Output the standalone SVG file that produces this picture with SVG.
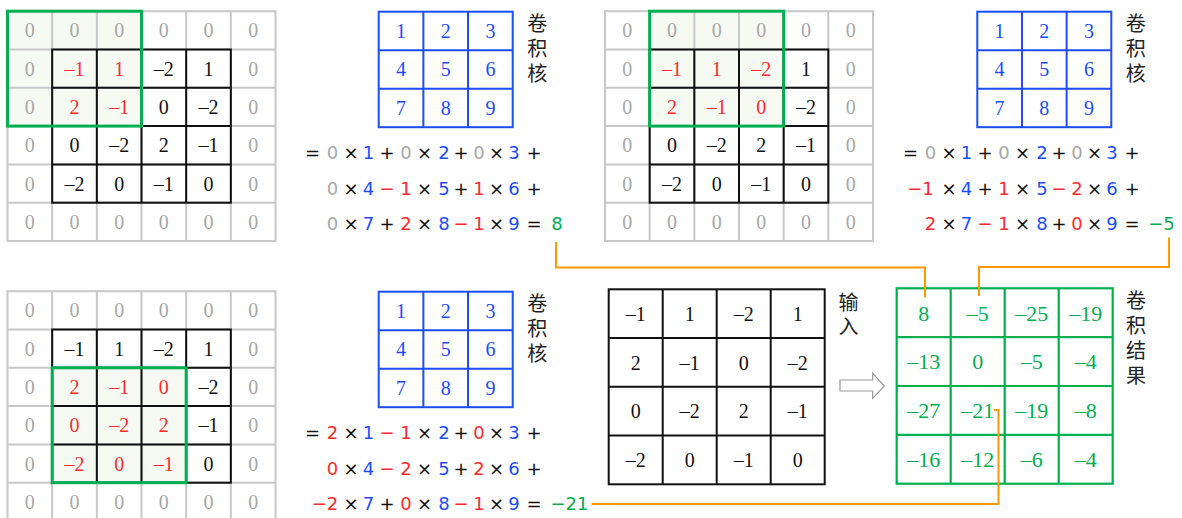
<svg xmlns="http://www.w3.org/2000/svg" xmlns:xlink="http://www.w3.org/1999/xlink" width="1182" height="518" viewBox="0 0 1182 518">
<style>
.d{font-family:"Liberation Serif",serif;font-size:20px;text-anchor:middle;fill:#111}
.z{fill:#a8a8a8}
.r{fill:#ff2a2a}
.b{fill:#1a4dff}
.gr{fill:#00b050}
.e{font-family:"DejaVu Sans",sans-serif;font-size:18px;text-anchor:middle;fill:#111}
.e .g{fill:#a8a8a8}
.cj{font-family:"Noto Sans CJK SC",sans-serif;font-size:20px;text-anchor:start;fill:#222;writing-mode:vertical-rl;letter-spacing:5px}
.gl{fill:none;stroke:#c8c8c8;stroke-width:2}
.bl{fill:none;stroke:#111;stroke-width:2}
.win{fill:#f7f9f3;stroke:none}
.wo{fill:none;stroke:#00b050;stroke-width:3}
.kl{fill:none;stroke:#1a4dff;stroke-width:2}
.rl{fill:none;stroke:#00b050;stroke-width:2.2}
.con{fill:none;stroke:#ff9900;stroke-width:2}
</style>
<defs>
<g id="padgrid">
<rect class="gl" x="0" y="0" width="268" height="229.8"/>
<path class="gl" d="M44.67 0V229.8M89.33 0V229.8M134 0V229.8M178.67 0V229.8M223.33 0V229.8M0 38.3H268M0 76.6H268M0 114.9H268M0 153.2H268M0 191.5H268"/>
<rect class="bl" x="44.67" y="38.3" width="178.67" height="153.2"/>
<path class="bl" d="M89.33 38.3V191.5M134 38.3V191.5M178.67 38.3V191.5M44.67 76.6H223.33M44.67 114.9H223.33M44.67 153.2H223.33"/>
</g>
<g id="kgrid">
<rect class="kl" x="0" y="0" width="134" height="115.5"/>
<path class="kl" d="M44.67 0V115.5M89.33 0V115.5M0 38.5H134M0 77H134"/>
</g>
</defs>

<g id="step1-input" transform="translate(7.5,11.2)">
<rect class="win" x="0" y="0" width="134" height="114.9"/>
<use href="#padgrid"/>
<rect class="wo" x="0" y="0" width="134" height="114.9"/>
<g class="d">
<text class="z" x="22.3" y="26.2">0</text><text class="z" x="67" y="26.2">0</text><text class="z" x="111.7" y="26.2">0</text><text class="z" x="156.3" y="26.2">0</text><text class="z" x="201" y="26.2">0</text><text class="z" x="245.7" y="26.2">0</text>
<text class="z" x="22.3" y="64.5">0</text><text class="r" x="67" y="64.5">–1</text><text class="r" x="111.7" y="64.5">1</text><text x="156.3" y="64.5">–2</text><text x="201" y="64.5">1</text><text class="z" x="245.7" y="64.5">0</text>
<text class="z" x="22.3" y="102.8">0</text><text class="r" x="67" y="102.8">2</text><text class="r" x="111.7" y="102.8">–1</text><text x="156.3" y="102.8">0</text><text x="201" y="102.8">–2</text><text class="z" x="245.7" y="102.8">0</text>
<text class="z" x="22.3" y="141.1">0</text><text x="67" y="141.1">0</text><text x="111.7" y="141.1">–2</text><text x="156.3" y="141.1">2</text><text x="201" y="141.1">–1</text><text class="z" x="245.7" y="141.1">0</text>
<text class="z" x="22.3" y="179.4">0</text><text x="67" y="179.4">–2</text><text x="111.7" y="179.4">0</text><text x="156.3" y="179.4">–1</text><text x="201" y="179.4">0</text><text class="z" x="245.7" y="179.4">0</text>
<text class="z" x="22.3" y="217.7">0</text><text class="z" x="67" y="217.7">0</text><text class="z" x="111.7" y="217.7">0</text><text class="z" x="156.3" y="217.7">0</text><text class="z" x="201" y="217.7">0</text><text class="z" x="245.7" y="217.7">0</text>
</g>
</g>

<g id="step2-input" transform="translate(605,11.2)">
<rect class="win" x="44.67" y="0" width="134" height="114.9"/>
<use href="#padgrid"/>
<rect class="wo" x="44.67" y="0" width="134" height="114.9"/>
<g class="d">
<text class="z" x="22.3" y="26.2">0</text><text class="z" x="67" y="26.2">0</text><text class="z" x="111.7" y="26.2">0</text><text class="z" x="156.3" y="26.2">0</text><text class="z" x="201" y="26.2">0</text><text class="z" x="245.7" y="26.2">0</text>
<text class="z" x="22.3" y="64.5">0</text><text class="r" x="67" y="64.5">–1</text><text class="r" x="111.7" y="64.5">1</text><text class="r" x="156.3" y="64.5">–2</text><text x="201" y="64.5">1</text><text class="z" x="245.7" y="64.5">0</text>
<text class="z" x="22.3" y="102.8">0</text><text class="r" x="67" y="102.8">2</text><text class="r" x="111.7" y="102.8">–1</text><text class="r" x="156.3" y="102.8">0</text><text x="201" y="102.8">–2</text><text class="z" x="245.7" y="102.8">0</text>
<text class="z" x="22.3" y="141.1">0</text><text x="67" y="141.1">0</text><text x="111.7" y="141.1">–2</text><text x="156.3" y="141.1">2</text><text x="201" y="141.1">–1</text><text class="z" x="245.7" y="141.1">0</text>
<text class="z" x="22.3" y="179.4">0</text><text x="67" y="179.4">–2</text><text x="111.7" y="179.4">0</text><text x="156.3" y="179.4">–1</text><text x="201" y="179.4">0</text><text class="z" x="245.7" y="179.4">0</text>
<text class="z" x="22.3" y="217.7">0</text><text class="z" x="67" y="217.7">0</text><text class="z" x="111.7" y="217.7">0</text><text class="z" x="156.3" y="217.7">0</text><text class="z" x="201" y="217.7">0</text><text class="z" x="245.7" y="217.7">0</text>
</g>
</g>

<g id="step3-input" transform="translate(7.5,291.2)">
<rect class="win" x="44.67" y="76.6" width="134" height="114.9"/>
<use href="#padgrid"/>
<rect class="wo" x="44.67" y="76.6" width="134" height="114.9"/>
<g class="d">
<text class="z" x="22.3" y="26.2">0</text><text class="z" x="67" y="26.2">0</text><text class="z" x="111.7" y="26.2">0</text><text class="z" x="156.3" y="26.2">0</text><text class="z" x="201" y="26.2">0</text><text class="z" x="245.7" y="26.2">0</text>
<text class="z" x="22.3" y="64.5">0</text><text x="67" y="64.5">–1</text><text x="111.7" y="64.5">1</text><text x="156.3" y="64.5">–2</text><text x="201" y="64.5">1</text><text class="z" x="245.7" y="64.5">0</text>
<text class="z" x="22.3" y="102.8">0</text><text class="r" x="67" y="102.8">2</text><text class="r" x="111.7" y="102.8">–1</text><text class="r" x="156.3" y="102.8">0</text><text x="201" y="102.8">–2</text><text class="z" x="245.7" y="102.8">0</text>
<text class="z" x="22.3" y="141.1">0</text><text class="r" x="67" y="141.1">0</text><text class="r" x="111.7" y="141.1">–2</text><text class="r" x="156.3" y="141.1">2</text><text x="201" y="141.1">–1</text><text class="z" x="245.7" y="141.1">0</text>
<text class="z" x="22.3" y="179.4">0</text><text class="r" x="67" y="179.4">–2</text><text class="r" x="111.7" y="179.4">0</text><text class="r" x="156.3" y="179.4">–1</text><text x="201" y="179.4">0</text><text class="z" x="245.7" y="179.4">0</text>
<text class="z" x="22.3" y="217.7">0</text><text class="z" x="67" y="217.7">0</text><text class="z" x="111.7" y="217.7">0</text><text class="z" x="156.3" y="217.7">0</text><text class="z" x="201" y="217.7">0</text><text class="z" x="245.7" y="217.7">0</text>
</g>
</g>

<g id="kernel1" transform="translate(378.7,11.7)">
<use href="#kgrid"/>
<g class="d">
<text class="b" x="22.3" y="26.3">1</text><text class="b" x="67" y="26.3">2</text><text class="b" x="111.7" y="26.3">3</text>
<text class="b" x="22.3" y="64.8">4</text><text class="b" x="67" y="64.8">5</text><text class="b" x="111.7" y="64.8">6</text>
<text class="b" x="22.3" y="103.3">7</text><text class="b" x="67" y="103.3">8</text><text class="b" x="111.7" y="103.3">9</text>
</g>
<text class="cj" x="158.5" y="1.6">卷积核</text>
</g>

<g id="kernel2" transform="translate(977.3,11.7)">
<use href="#kgrid"/>
<g class="d">
<text class="b" x="22.3" y="26.3">1</text><text class="b" x="67" y="26.3">2</text><text class="b" x="111.7" y="26.3">3</text>
<text class="b" x="22.3" y="64.8">4</text><text class="b" x="67" y="64.8">5</text><text class="b" x="111.7" y="64.8">6</text>
<text class="b" x="22.3" y="103.3">7</text><text class="b" x="67" y="103.3">8</text><text class="b" x="111.7" y="103.3">9</text>
</g>
<text class="cj" x="158.5" y="1.6">卷积核</text>
</g>

<g id="kernel3" transform="translate(378.7,291.7)">
<use href="#kgrid"/>
<g class="d">
<text class="b" x="22.3" y="26.3">1</text><text class="b" x="67" y="26.3">2</text><text class="b" x="111.7" y="26.3">3</text>
<text class="b" x="22.3" y="64.8">4</text><text class="b" x="67" y="64.8">5</text><text class="b" x="111.7" y="64.8">6</text>
<text class="b" x="22.3" y="103.3">7</text><text class="b" x="67" y="103.3">8</text><text class="b" x="111.7" y="103.3">9</text>
</g>
<text class="cj" x="158.5" y="1.6">卷积核</text>
</g>

<g id="equation1">
<text class="e" y="159"><tspan x="312.5">=</tspan><tspan x="332.5" class="g">0</tspan><tspan x="351">×</tspan><tspan x="368.5" class="b">1</tspan><tspan x="387">+</tspan><tspan x="406" class="g">0</tspan><tspan x="424.5">×</tspan><tspan x="444" class="b">2</tspan><tspan x="461">+</tspan><tspan x="479" class="g">0</tspan><tspan x="496.5">×</tspan><tspan x="514" class="b">3</tspan><tspan x="534">+</tspan></text>
<text class="e" y="195"><tspan x="332.5" class="g">0</tspan><tspan x="351">×</tspan><tspan x="368.5" class="b">4</tspan><tspan x="387" class="r">−</tspan><tspan x="406" class="r">1</tspan><tspan x="424.5">×</tspan><tspan x="444" class="b">5</tspan><tspan x="461">+</tspan><tspan x="479" class="r">1</tspan><tspan x="496.5">×</tspan><tspan x="514" class="b">6</tspan><tspan x="534">+</tspan></text>
<text class="e" y="230"><tspan x="332.5" class="g">0</tspan><tspan x="351">×</tspan><tspan x="368.5" class="b">7</tspan><tspan x="387">+</tspan><tspan x="406" class="r">2</tspan><tspan x="424.5">×</tspan><tspan x="444" class="b">8</tspan><tspan x="461" class="r">−</tspan><tspan x="479" class="r">1</tspan><tspan x="496.5">×</tspan><tspan x="514" class="b">9</tspan><tspan x="534">=</tspan><tspan x="557" class="gr">8</tspan></text>
</g>

<g id="equation2">
<text class="e" y="159"><tspan x="910.5">=</tspan><tspan x="930.5" class="g">0</tspan><tspan x="949">×</tspan><tspan x="966.5" class="b">1</tspan><tspan x="985">+</tspan><tspan x="1004" class="g">0</tspan><tspan x="1022.5">×</tspan><tspan x="1042" class="b">2</tspan><tspan x="1059">+</tspan><tspan x="1077" class="g">0</tspan><tspan x="1094.5">×</tspan><tspan x="1112" class="b">3</tspan><tspan x="1132">+</tspan></text>
<text class="e" y="195"><tspan x="920.5" class="r">−1</tspan><tspan x="949">×</tspan><tspan x="966.5" class="b">4</tspan><tspan x="985">+</tspan><tspan x="1004" class="r">1</tspan><tspan x="1022.5">×</tspan><tspan x="1042" class="b">5</tspan><tspan x="1059" class="r">−</tspan><tspan x="1077" class="r">2</tspan><tspan x="1094.5">×</tspan><tspan x="1112" class="b">6</tspan><tspan x="1132">+</tspan></text>
<text class="e" y="230"><tspan x="930.5" class="r">2</tspan><tspan x="949">×</tspan><tspan x="966.5" class="b">7</tspan><tspan x="985" class="r">−</tspan><tspan x="1004" class="r">1</tspan><tspan x="1022.5">×</tspan><tspan x="1042" class="b">8</tspan><tspan x="1059">+</tspan><tspan x="1077" class="r">0</tspan><tspan x="1094.5">×</tspan><tspan x="1112" class="b">9</tspan><tspan x="1132">=</tspan><tspan x="1161.5" class="gr">−5</tspan></text>
</g>

<g id="equation3">
<text class="e" y="439"><tspan x="312.5">=</tspan><tspan x="332.5" class="r">2</tspan><tspan x="351">×</tspan><tspan x="368.5" class="b">1</tspan><tspan x="387" class="r">−</tspan><tspan x="406" class="r">1</tspan><tspan x="424.5">×</tspan><tspan x="444" class="b">2</tspan><tspan x="461">+</tspan><tspan x="479" class="r">0</tspan><tspan x="496.5">×</tspan><tspan x="514" class="b">3</tspan><tspan x="534">+</tspan></text>
<text class="e" y="475"><tspan x="332.5" class="r">0</tspan><tspan x="351">×</tspan><tspan x="368.5" class="b">4</tspan><tspan x="387" class="r">−</tspan><tspan x="406" class="r">2</tspan><tspan x="424.5">×</tspan><tspan x="444" class="b">5</tspan><tspan x="461">+</tspan><tspan x="479" class="r">2</tspan><tspan x="496.5">×</tspan><tspan x="514" class="b">6</tspan><tspan x="534">+</tspan></text>
<text class="e" y="510"><tspan x="325" class="r">−2</tspan><tspan x="351">×</tspan><tspan x="368.5" class="b">7</tspan><tspan x="387">+</tspan><tspan x="406" class="r">0</tspan><tspan x="424.5">×</tspan><tspan x="444" class="b">8</tspan><tspan x="461" class="r">−</tspan><tspan x="479" class="r">1</tspan><tspan x="496.5">×</tspan><tspan x="514" class="b">9</tspan><tspan x="534">=</tspan><tspan x="569.5" class="gr">−21</tspan></text>
</g>

<g id="input">
<rect class="bl" x="608.7" y="289.3" width="216" height="195"/>
<path class="bl" d="M662.7 289.3V484.3M716.7 289.3V484.3M770.7 289.3V484.3M608.7 338H824.7M608.7 386.7H824.7M608.7 435.5H824.7"/>
<g class="d">
<text x="635.7" y="320.8">–1</text><text x="689.7" y="320.8">1</text><text x="743.7" y="320.8">–2</text><text x="797.7" y="320.8">1</text>
<text x="635.7" y="369.5">2</text><text x="689.7" y="369.5">–1</text><text x="743.7" y="369.5">0</text><text x="797.7" y="369.5">–2</text>
<text x="635.7" y="418.2">0</text><text x="689.7" y="418.2">–2</text><text x="743.7" y="418.2">2</text><text x="797.7" y="418.2">–1</text>
<text x="635.7" y="467">–2</text><text x="689.7" y="467">0</text><text x="743.7" y="467">–1</text><text x="797.7" y="467">0</text>
</g>
<text class="cj" x="848.5" y="292.5" style="letter-spacing:3.5px">输入</text>
</g>

<g id="arrow">
<polygon points="840,380 872.7,380 872.7,373.3 884.3,386 872.7,398.3 872.7,391 840,391" fill="#fff" stroke="#999" stroke-width="1.2"/>
</g>

<g id="result">
<rect class="rl" x="896.7" y="288.3" width="216" height="195.4"/>
<path class="rl" d="M950.7 288.3V483.7M1004.7 288.3V483.7M1058.7 288.3V483.7M896.7 337.2H1112.7M896.7 386H1112.7M896.7 434.9H1112.7"/>
<g class="d" style="font-size:22px">
<text class="gr" x="923.7" y="320.5">8</text><text class="gr" x="977.7" y="320.5">–5</text><text class="gr" x="1031.7" y="320.5">–25</text><text class="gr" x="1085.7" y="320.5">–19</text>
<text class="gr" x="923.7" y="369.4">–13</text><text class="gr" x="977.7" y="369.4">0</text><text class="gr" x="1031.7" y="369.4">–5</text><text class="gr" x="1085.7" y="369.4">–4</text>
<text class="gr" x="923.7" y="418.2">–27</text><text class="gr" x="977.7" y="418.2">–21</text><text class="gr" x="1031.7" y="418.2">–19</text><text class="gr" x="1085.7" y="418.2">–8</text>
<text class="gr" x="923.7" y="467">–16</text><text class="gr" x="977.7" y="467">–12</text><text class="gr" x="1031.7" y="467">–6</text><text class="gr" x="1085.7" y="467">–4</text>
</g>
<text class="cj" x="1136" y="290">卷积结果</text>
</g>

<g id="connectors">
<path class="con" d="M556 242V267.5H925V297.5"/>
<path class="con" d="M1169 237.5V267H979V296"/>
<path class="con" d="M591.5 504H998.5V410H994"/>
</g>
</svg>
